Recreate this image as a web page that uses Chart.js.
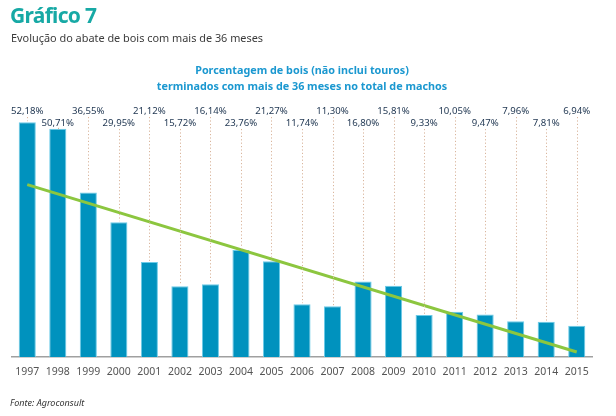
<!DOCTYPE html>
<html>
<head>
<meta charset="utf-8">
<script src="https://cdn.jsdelivr.net/npm/chart.js@4"></script>
<style>
  html, body { margin: 0; padding: 0; background: #fff; }
  body { width: 616px; height: 416px; position: relative; overflow: hidden; font-family: "Noto Sans", "Open Sans", sans-serif; }
  #wrap { position: absolute; left: 0; top: 0; width: 616px; height: 416px; }
  .t { position: absolute; white-space: nowrap; }
  #h1 { left: 10px; top: 1px; font-size: 21px; font-weight: 700; color: #17a9a5; letter-spacing: -0.7px; }
  #h2 { left: 11px; top: 30px; font-size: 10.9px; color: #3b3b3b; }
  #ct { left: 0; width: 604px; top: 62px; text-align: center; font-size: 10.8px; font-weight: 700; color: #1b98d0; line-height: 16px; }
  #src { left: 10px; top: 396px; font-size: 9px; font-style: italic; color: #333; }
</style>
</head>
<body>
<div id="wrap"><canvas id="c" width="616" height="416"></canvas></div>
<div class="t" id="h1">Gráfico 7</div>
<div class="t" id="h2">Evolução do abate de bois com mais de 36 meses</div>
<div class="t" id="ct">Porcentagem de bois (não inclui touros)<br>terminados com mais de 36 meses no total de machos</div>
<div class="t" id="src">Fonte: Agroconsult</div>
<script>
const years = ['1997','1998','1999','2000','2001','2002','2003','2004','2005','2006','2007','2008','2009','2010','2011','2012','2013','2014','2015'];
const shares = [52.18, 50.71, 36.55, 29.95, 21.12, 15.72, 16.14, 23.76, 21.27, 11.74, 11.30, 16.80, 15.81, 9.33, 10.05, 9.47, 7.96, 7.81, 6.94];
// trend line endpoints (first and last year)
const trend = [38.3, null, null, null, null, null, null, null, null, null, null, null, null, null, null, null, null, null, 1.1];

const valueLabels = {
  id: 'valueLabels',
  afterDatasetsDraw(chart) {
    const ctx = chart.ctx;
    const meta = chart.getDatasetMeta(0);
    const top = chart.chartArea.top;
    ctx.save();
    ctx.font = '9.6px "Noto Sans", sans-serif';
    ctx.textAlign = 'center';
    ctx.textBaseline = 'middle';
    meta.data.forEach((bar, i) => {
      const ly = top + (i % 2 === 0 ? 24 : 36);
      ctx.strokeStyle = '#d9b59c';
      ctx.lineWidth = 1;
      ctx.setLineDash([1.2, 2.2]);
      ctx.beginPath();
      ctx.moveTo(Math.round(bar.x) + 0.5, ly + 6);
      ctx.lineTo(Math.round(bar.x) + 0.5, bar.y - 1);
      ctx.stroke();
      ctx.setLineDash([]);
      ctx.fillStyle = '#1e3550';
      ctx.fillText(shares[i].toFixed(2).replace('.', ',') + '%', bar.x, ly);
    });
    ctx.restore();
  }
};

new Chart(document.getElementById('c'), {
  type: 'bar',
  data: {
    labels: years,
    datasets: [
      { type: 'bar', data: shares, backgroundColor: '#0092be', borderColor: '#6ccbe8', borderWidth: 1, barPercentage: 0.56, categoryPercentage: 1, order: 2 },
      { type: 'line', data: trend, spanGaps: true, borderColor: '#8cc63f', borderWidth: 3, pointRadius: 0, tension: 0, order: 1 }
    ]
  },
  options: {
    responsive: false,
    animation: false,
    layout: { padding: { left: 12, right: 24, top: 87, bottom: 36.4 } },
    plugins: { legend: { display: false }, tooltip: { enabled: false } },
    scales: {
      x: {
        grid: { display: false },
        border: { display: true, color: '#a0a0a0', width: 1.5 },
        ticks: { color: '#555', font: { family: '"Noto Sans", sans-serif', size: 10.5 }, padding: 1, maxRotation: 0, autoSkip: false }
      },
      y: { display: false, min: 0, max: 60 }
    }
  },
  plugins: [valueLabels]
});
</script>
</body>
</html>
